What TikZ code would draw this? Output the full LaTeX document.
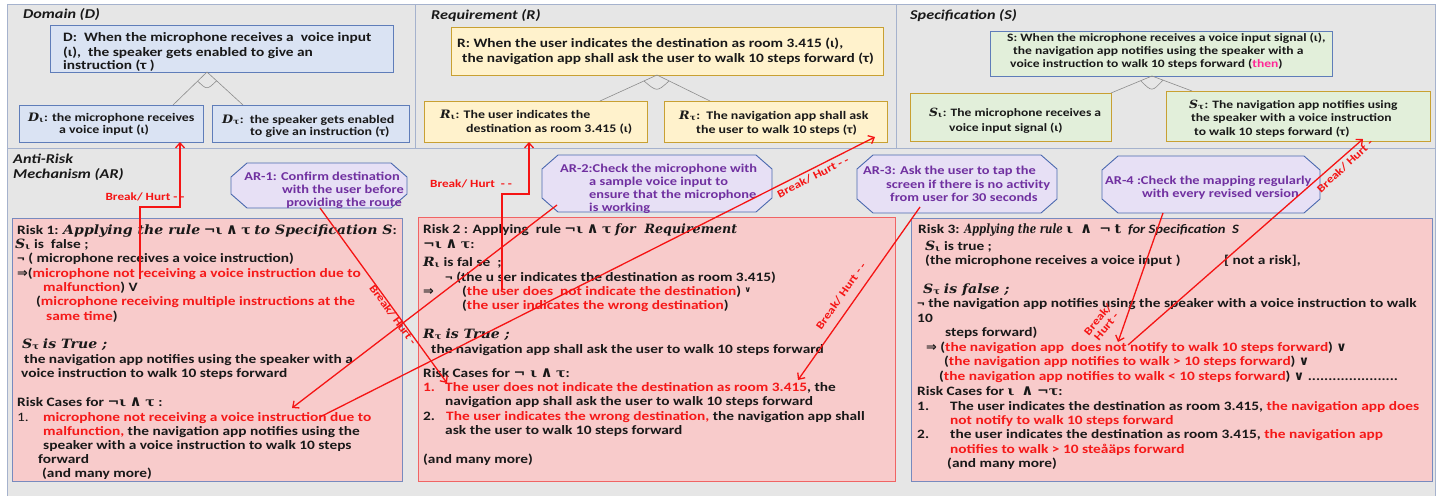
\documentclass[tikz,border=0pt]{standalone}
\usepackage{fontspec}
\usepackage{graphicx}
\setmainfont{Carlito}[FakeStretch=1.2]
\newfontfamily\dvserif{DejaVu Serif}[FakeStretch=1.1]
\newfontfamily\dvsans{DejaVu Sans}
\usetikzlibrary{arrows.meta,calc}
\definecolor{bggray}{RGB}{230,230,230}
\definecolor{panelc}{RGB}{165,178,205}
\definecolor{dfill}{RGB}{218,227,243}
\definecolor{ddraw}{RGB}{95,125,185}
\definecolor{rfill}{RGB}{255,242,204}
\definecolor{rdraw}{RGB}{200,160,50}
\definecolor{sfill}{RGB}{226,239,218}
\definecolor{arfill}{RGB}{231,224,245}
\definecolor{ardraw}{RGB}{75,105,175}
\definecolor{arpurple}{RGB}{112,48,160}
\definecolor{kfill}{RGB}{248,203,203}
\definecolor{kblue}{RGB}{120,138,190}
\definecolor{kred}{RGB}{240,100,100}
\definecolor{tred}{RGB}{245,25,25}
\definecolor{ared}{RGB}{245,20,20}
\definecolor{tmag}{RGB}{255,40,150}
\definecolor{tblack}{RGB}{25,25,25}
\definecolor{andc}{RGB}{140,140,140}
\newcommand\Mi[1]{{\dvserif\bfseries\itshape #1}}
\newcommand\Ms[1]{{\dvserif\bfseries #1}}
\newcommand\Sy[1]{{\dvsans #1}}
\newcommand\Wedge{{\dvsans\fontsize{15}{15}\selectfont ∧}}
\newcommand\Sb[2]{\Mi{#1}\textsubscript{\Ms{#2}}}
\newcommand\Rd[1]{\textcolor{tred}{#1}}
\newcommand\Ln[5]{\node[#2] (#1) at (#3,#4) {#5};}
\newcommand\Bx[6]{\node[#1, minimum width={#5-#3}, minimum height={#6-#4}] (#2) at ({(#3+#5)/2},{(#4+#6)/2}) {};}
\newcommand\ARoct[1]{\draw[arshape] ([xshift=16pt]#1.north west) -- ([xshift=-16pt]#1.north east) -- ([yshift=-14pt]#1.north east) -- ([yshift=14pt]#1.south east) -- ([xshift=-16pt]#1.south east) -- ([xshift=16pt]#1.south west) -- ([yshift=14pt]#1.south west) -- ([yshift=-14pt]#1.north west) -- cycle;}
\tikzset{
  ln/.style={anchor=base west, inner sep=0pt, text=tblack, font=\bfseries\fontsize{12.8}{14.5}\selectfont},
  lnB/.style={ln, font=\bfseries\fontsize{11.6}{13}\selectfont},
  lnS/.style={ln, font=\bfseries\fontsize{11.3}{13}\selectfont},
  arln/.style={ln, text=arpurple, font=\bfseries\fontsize{12}{13}\selectfont},
  arlnE/.style={arln, anchor=base east},
  ttl/.style={ln, font=\bfseries\itshape\fontsize{13.5}{15}\selectfont},
  bx/.style={rectangle, inner sep=0pt, outer sep=0pt, line width=0.9pt},
  dbox/.style={bx, draw=ddraw, fill=dfill},
  rbox/.style={bx, draw=rdraw, fill=rfill},
  sbox/.style={bx, draw=ddraw, fill=sfill},
  sgbox/.style={bx, draw=rdraw, fill=sfill},
  kbox/.style={bx, draw=kblue, fill=kfill},
  kboxr/.style={bx, draw=kred, fill=kfill},
  arbox/.style={rectangle, inner sep=0pt, outer sep=0pt},
  arshape/.style={draw=ardraw, fill=arfill, line width=0.9pt},
  panel/.style={draw=panelc, line width=0.9pt},
  andline/.style={draw=andc, line width=0.6pt},
  riskarrow/.style={draw=ared, line width=1.3pt, -{Straight Barb[length=5pt,width=9pt]}},
  lbl/.style={inner sep=0pt, text=ared, font=\bfseries\fontsize{11}{11}\selectfont, align=center}
}
\begin{document}
\begin{tikzpicture}[x=1pt,y=-1pt]
\useasboundingbox (0,0) rectangle (1445,496);
\fill[white] (0,0) rectangle (1445,496);
\fill[bggray] (7,4) rectangle (1435,496);
\draw[panel] (7,496) -- (7,4) -- (1435,4) -- (1435,496);
\draw[panel] (7,148) -- (1435,148);
\draw[panel] (415,4) -- (415,148);
\draw[panel] (896,4) -- (896,148);
% titles
\Ln{tD}{ttl}{23}{18}{Domain (D)}
\Ln{tR}{ttl}{431}{19}{Requirement (R)}
\Ln{tS}{ttl}{910}{19}{Specification (S)}
\Ln{tAR1}{ttl}{13}{163}{Anti-Risk}
\Ln{tAR2}{ttl}{13}{178}{Mechanism (AR)}
% boxes
\Bx{dbox}{D}{50}{25}{393}{72}
\Bx{dbox}{Di}{19}{105}{203}{142}
\Bx{dbox}{Dt}{212}{105}{409}{142}
\Bx{rbox}{R}{451}{27}{883}{75}
\Bx{rbox}{Ri}{424}{101}{647}{142}
\Bx{rbox}{Rt}{664}{101}{887}{142}
\Bx{sbox}{S}{990}{31}{1332}{76}
\Bx{sgbox}{Si}{910}{93}{1111}{141}
\Bx{sgbox}{St}{1166}{91}{1430}{141}
\Bx{kbox}{K1}{12}{218}{402}{481}
\Bx{kboxr}{K2}{418}{217}{895}{481}
\Bx{kbox}{K3}{911}{218}{1432}{481}
\Bx{arbox}{A1}{231}{163}{407}{208}
\Bx{arbox}{A2}{542}{155}{772}{212}
\Bx{arbox}{A3}{857}{155}{1057}{213}
\Bx{arbox}{A4}{1102}{156}{1320}{213}
\ARoct{A1}\ARoct{A2}\ARoct{A3}\ARoct{A4}
% and-decompositions
\coordinate (dap) at (207,72); \coordinate (dl) at (173,105); \coordinate (dr) at (243,105);
\draw[andline] (dl) -- (dap) -- (dr);
\draw[andline] ($(dap)+(-9.4,9.1)$) .. controls ($(dap)+(0,18)$) .. ($(dap)+(9.6,8.8)$);
\coordinate (rap) at (657,75); \coordinate (rl) at (600,101); \coordinate (rr) at (710,101);
\draw[andline] (rl) -- (rap) -- (rr);
\draw[andline] ($(rap)+(-13,6)$) .. controls ($(rap)+(0,17)$) .. ($(rap)+(12,6)$);
\coordinate (sap) at (1152,76); \coordinate (sl) at (1111,93); \coordinate (sr) at (1192,91);
\draw[andline] (sl) -- (sap) -- (sr);
\draw[andline] ($(sap)+(-11,5)$) .. controls ($(sap)+(0,16)$) .. ($(sap)+(11,4)$);
% top texts
\Ln{d1}{ln}{63}{41}{D:\ \ When the microphone receives a\ \ voice input}
\Ln{d2}{ln}{63}{56}{(ι),\ \ the speaker gets enabled to give an}
\Ln{d3}{ln}{63}{69}{instruction (τ )}
\Ln{di1}{lnB}{28}{121}{\Sb{D}{ι}: the microphone receives}
\Ln{di2}{lnB}{59}{133}{a voice input (ι)}
\Ln{dt1}{lnB}{222}{123}{\Sb{D}{τ}:\ \ the speaker gets enabled}
\Ln{dt2}{lnB}{250}{135}{to give an instruction (τ)}
\Ln{r1}{ln}{457}{47}{R: When the user indicates the destination as room 3.415 (ι),}
\Ln{r2}{ln}{462}{62}{the navigation app shall ask the user to walk 10 steps forward (τ)}
\Ln{ri1}{lnB}{440}{118}{\Sb{R}{ι}: The user indicates the}
\Ln{ri2}{lnB}{466}{132}{destination as room 3.415 (ι)}
\Ln{rt1}{lnB}{679}{119}{\Sb{R}{τ}:\ \ The navigation app shall ask}
\Ln{rt2}{lnB}{696}{133}{the user to walk 10 steps (τ)}
\Ln{s1}{lnS}{1007}{41}{S: When the microphone receives a voice input signal (ι),}
\Ln{s2}{lnS}{1013}{54}{the navigation app notifies using the speaker with a}
\Ln{s3}{lnS}{1010}{67}{voice instruction to walk 10 steps forward (\textcolor{tmag}{then})}
\Ln{si1}{lnS}{929}{116}{\Sb{S}{ι}: The microphone receives a}
\Ln{si2}{lnS}{949}{131}{voice input signal (ι)}
\Ln{st1}{lnS}{1189}{108}{\Sb{S}{τ}: The navigation app notifies using}
\Ln{st2}{lnS}{1191}{121}{the speaker with a voice instruction}
\Ln{st3}{lnS}{1194}{135}{to walk 10 steps forward (τ)}
% AR texts
\Ln{a11}{arlnE}{400}{180}{AR-1: Confirm destination}
\Ln{a12}{arlnE}{404}{193}{with the user before}
\Ln{a13}{arlnE}{402}{206}{providing the route}
\Ln{a21}{arln}{560}{172}{AR-2:Check the microphone with}
\Ln{a22}{arln}{589}{185}{a sample voice input to}
\Ln{a23}{arln}{589}{198}{ensure that the microphone}
\Ln{a24}{arln}{589}{211}{is working}
\Ln{a31}{arln}{863}{174}{AR-3: Ask the user to tap the}
\Ln{a32}{arln}{886}{188}{screen if there is no activity}
\Ln{a33}{arln}{890}{201}{from user for 30 seconds}
\Ln{a41}{arln}{1105}{184}{AR-4 :Check the mapping regularly}
\Ln{a42}{arln}{1142}{197}{with every revised version}
% Risk 1
\Ln{k101}{ln}{17}{234}{Risk 1: \Mi{Applying the rule} \Ms{¬ι} \Wedge{} \Ms{τ} \Mi{to Specification S}:}
\Ln{k102}{ln}{15}{248}{\Sb{S}{ι} is\ \ false ;}
\Ln{k103}{ln}{17}{262}{¬ ( microphone receives a voice instruction)}
\Ln{k104}{ln}{17}{277}{\Sy{⇒}(\Rd{microphone not receiving a voice instruction due to}}
\Ln{k105}{ln}{43}{291}{\Rd{malfunction}) V}
\Ln{k106}{ln}{36}{305}{(\Rd{microphone receiving multiple instructions at the}}
\Ln{k107}{ln}{46}{320}{\Rd{same time})}
\Ln{k108}{ln}{22}{348}{\Sb{S}{τ} \Mi{is True ;}}
\Ln{k109}{ln}{24}{363}{the navigation app notifies using the speaker with a}
\Ln{k110}{ln}{21}{377}{voice instruction to walk 10 steps forward}
\Ln{k111}{ln}{17}{406}{Risk Cases for \Ms{¬ι} \Wedge{} \Ms{τ} :}
\Ln{k112}{ln}{17}{421}{\mdseries 1.}
\Ln{k113}{ln}{43}{421}{\Rd{microphone not receiving a voice instruction due to}}
\Ln{k114}{ln}{43}{435}{\Rd{malfunction,} the navigation app notifies using the}
\Ln{k115}{ln}{43}{449}{speaker with a voice instruction to walk 10 steps}
\Ln{k116}{ln}{38}{463}{forward}
\Ln{k117}{ln}{42}{477}{(and many more)}
% Risk 2
\Ln{k201}{ln}{423}{233}{Risk 2 : Applying\ \ rule \Ms{¬ι} \Wedge{} \Ms{τ} \scalebox{0.9}[1]{\Mi{for\ \ Requirement}}}
\Ln{k202}{ln}{423}{248}{\Ms{¬ι} \Wedge{} \Ms{τ}:}
\Ln{k203}{ln}{423}{266}{\Sb{R}{ι} is fal se\ \ ;}
\Ln{k204}{ln}{445}{281}{¬ (the u ser indicates the destination as room 3.415)}
\Ln{k205}{ln}{423}{295}{\Sy{⇒}}
\Ln{k206}{ln}{462}{295}{(\Rd{the user does\ \ not indicate the destination}) {\dvsans\fontsize{8}{8}\selectfont\raisebox{3pt}{∨}}}
\Ln{k207}{ln}{462}{309}{(\Rd{the user indicates the wrong destination})}
\Ln{k208}{ln}{423}{338}{\Sb{R}{τ} \Mi{is True ;}}
\Ln{k209}{ln}{431}{353}{the navigation app shall ask the user to walk 10 steps forward}
\Ln{k210}{ln}{423}{377}{Risk Cases for \Ms{¬ ι} \Wedge{} \Ms{τ}:}
\Ln{k211}{ln}{423}{391}{\Rd{1.}}
\Ln{k212}{ln}{445}{391}{\Rd{The user does not indicate the destination as room 3.415}, the}
\Ln{k213}{ln}{445}{405}{navigation app shall ask the user to walk 10 steps forward}
\Ln{k214}{ln}{423}{420}{2.}
\Ln{k215}{ln}{446}{420}{\Rd{The user indicates the wrong destination,} the navigation app shall}
\Ln{k216}{ln}{445}{434}{ask the user to walk 10 steps forward}
\Ln{k217}{ln}{423}{463}{(and many more)}
% Risk 3
\Ln{k301}{ln}{918}{233}{Risk 3: \scalebox{0.72}[1]{\Mi{Applying the rule}}\ \Ms{ι}\ \ \Wedge\ \ \Ms{¬}\ \Ms{t}\ \ \scalebox{0.95}[1]{\itshape for Specification\ \ S}}
\Ln{k302}{ln}{925}{250}{\Sb{S}{ι} is true ;}
\Ln{k303}{ln}{925}{264}{(the microphone receives a voice input )}
\Ln{k304}{ln}{1224}{264}{[ not a risk],}
\Ln{k305}{ln}{923}{293}{\Sb{S}{τ} \Mi{is false ;}}
\Ln{k306}{ln}{917}{307}{¬ the navigation app notifies using the speaker with a voice instruction to walk}
\Ln{k307}{ln}{917}{322}{10}
\Ln{k308}{ln}{945}{336}{steps forward)}
\Ln{k309}{ln}{926}{351}{\Sy{⇒} (\Rd{the navigation app\ \ does not notify to walk 10 steps forward}) \Sy{∨}}
\Ln{k310}{ln}{944}{365}{(\Rd{the navigation app notifies to walk > 10 steps forward}) \Sy{∨}}
\Ln{k311}{ln}{939}{380}{(\Rd{the navigation app notifies to walk < 10 steps forward}) \Sy{∨} ......................}
\Ln{k312}{ln}{917}{395}{Risk Cases for \Ms{ι}\ \ \Wedge{} \Ms{¬τ}:}
\Ln{k313}{ln}{917}{410}{1.}
\Ln{k314}{ln}{950}{410}{The user indicates the destination as room 3.415, \Rd{the navigation app does}}
\Ln{k315}{ln}{950}{424}{\Rd{not notify to walk 10 steps forward}}
\Ln{k316}{ln}{917}{438}{2.}
\Ln{k317}{ln}{950}{438}{the user indicates the destination as room 3.415, \Rd{the navigation app}}
\Ln{k318}{ln}{950}{453}{\Rd{notifies to walk > 10 steåäps forward}}
\Ln{k319}{ln}{947}{467}{(and many more)}
% arrows
\coordinate (r1a) at (140,279); \coordinate (k1) at (180,207);
\draw[riskarrow] (r1a) |- (k1) -- (k1 |- Di.south);
\coordinate (r2a) at (502,290); \coordinate (k2) at (529,194);
\draw[riskarrow] (r2a) |- (k2) -- (k2 |- Ri.south);
\coordinate (a1s) at (320,208); \coordinate (r2c1) at (447,383);
\draw[riskarrow] (a1s) -- (r2c1);
\coordinate (a2s) at (557,205); \coordinate (r1c1) at (292,408);
\draw[riskarrow] (a2s) -- (r1c1);
\coordinate (r1c2) at (320,417); \coordinate (rtb) at (875,137);
\draw[riskarrow] (r1c2) -- (rtb);
\coordinate (a3s) at (920,207); \coordinate (r2c2) at (798,380);
\draw[riskarrow] (a3s) -- (r2c2);
\coordinate (a4s) at (1163,213); \coordinate (r3c1) at (1118,342);
\draw[riskarrow] (a4s) -- (r3c1);
\coordinate (r3c2) at (1128,345); \coordinate (stb) at (1363,139);
\draw[riskarrow] (r3c2) -- (stb);
% labels
\node[lbl] (L1) at (145,197) {Break/ Hurt - -};
\node[lbl] (L2) at (471,184) {Break/ Hurt\ \ - -};
\node[lbl, rotate=-54] (L3) at (393,315) {Break/ Hurt -};
\node[lbl, rotate=27] (L5) at (813,177) {Break/ Hurt - -};
\node[lbl, rotate=55] (L6) at (841,296) {Break/ Hurt - -};
\node[lbl, rotate=50] (L7) at (1102,323) {Break/\\Hurt -};
\node[lbl, rotate=43] (L8) at (1345,166) {Break/ Hurt -};
\end{tikzpicture}
\end{document}
